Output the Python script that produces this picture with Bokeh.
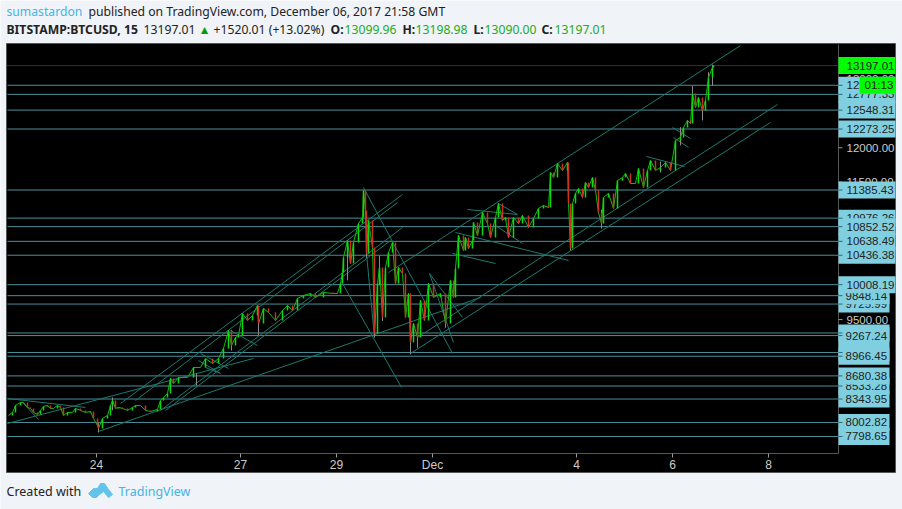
from bokeh.plotting import figure
from bokeh.embed import file_html
from bokeh.resources import INLINE
from bokeh.core.properties import value
from bokeh.models import Range1d

# time in hours from 24 Nov 00:00
times = [-44,-42,-40.5,-38,-36.5,-34.5,-33,-31.5,-29.5,-28,-26.5,-24.5,-23,-21.5,-19.5,-18,-16.5,-14.5,-12,-10.5,-8,-5.5,-3,-1.5,0.5,1,3,5.5,7,8,9.5,11,13,15.5,18,19.5,22,24.5,27,30.5,32,33.5,35.5,37,38.5,41,45.5,48.5,52,54.5,58,61,63.5,66,67.5,69.5,71,73,75.5,78,80.5,81,83.5,86,89.5,93,95.5,98,100.5,103.5,107,109.5,113.5,118,120.5,122,123,
123.5,125.5,127,128.5,131,133,133.5,134.5,135,136,138,139,140.5,141.5,143,144.5,146,148,149.5,151,153,154.5,156,157,158.5,160.5,162,164,166,168.5,172,174.5,177,178.5,179.5,181,183.5,184.5,186,188,188.5,190.5,193,195.5,197,199.5,201,203,204.5,206,208.5,211,213,216,218.5,221,223.5,226,227,228.5,230.5,233,235.5,236,237,238,239.5,241,243,244.5,246,248,249.5,251,252.5,253.5,256,258.5,260.5,263,264.5,267,269.5,271,273.5,275.5,277,279.5,282,284.5,287,289.5,292,293.5,295.5,297,298,299.5,301,303,304.5,306,308,308.5]
closes = [8105,8149,8250,8294,8294,8221,8207,8149,8119,8178,8236,8250,8207,8207,8250,8221,8105,8149,8149,8207,8178,8149,8163,8061,7959,7916,8061,8105,8250,8323,8207,8221,8207,8178,8221,8250,8250,8178,8163,8192,8323,8367,8425,8643,8570,8658,8658,8803,8803,8934,8861,8934,9080,9341,9123,9240,9269,9589,9487,9560,9705,9443,9662,9603,9487,9633,9705,9633,9807,9851,9880,9822,9895,9880,9880,10025,10185,
10404,10651,10316,10622,10898,10986,11378,11088,10462,10942,10549,9298,10025,10258,9531,10258,10476,10622,10025,10258,10171,9531,9880,9167,9443,9240,9778,9487,10025,9822,9880,9443,10069,9822,10244,10724,10505,10695,10535,10651,10913,10724,11058,10898,10695,10986,11189,10942,10986,10695,10986,10898,11015,10840,10971,11117,11160,11131,11640,11568,11771,11669,11786,11189,10535,11189,11335,11408,11277,11495,11422,11568,11378,11058,10898,11277,11335,11117,11524,11568,11626,11480,11480,11699,11422,11669,11815,11669,11713,11786,11669,12106,12150,12295,12397,12353,12790,12586,12732,12543,12688,13023,13168,13197]
wick_t = [1,8,50,67.5,81,125.5,135,139,141.5,143,157,160.5,174.5,237,252.5,282,292,298,303,306,308]
wick_lo = [7857,8180,8540,9050,9270,10070,10400,9240,10000,9480,8993,9090,9380,10505,10825,11640,12034,12513,12397,12800,12900]
wick_hi = [8000,8367,8720,9350,9450,10650,11000,9600,10430,9900,9300,9400,9700,10800,11100,11800,12300,12900,12700,13100,13210]

# trend lines
tl_t0 = [146,12,19.5,32,34.5,1,-44.5,157,160.5,133.5,166.5,166.5,135,123,185.5,179.5,178,201,199.5,275,288,288.5,52,54.5,67,-44.5,-37,51]
tl_p0 = [10185,8279,8323,8178,8178,7872,7988,9007,9240,11422,10171,10171,10462,10025,11102,10767,10462,11189,10869,11873,12295,12150,9007,8803,9341,8352,8294,8905]
tl_t1 = [322,153,150.5,153,147,192,78.5,337,340.5,178,183,178.5,139,152.5,210.5,236,199.5,210.5,213,294,297,296,66,62,80.5,-5.5,-29,62]
tl_p1 = [13488,11320,11204,10840,10651,9822,8934,12368,12630,9007,9531,9167,9240,8512,11029,10360,10316,11029,10607,11728,12135,12004,8788,8716,9123,8221,8047,8716]

# horizontal levels; the order is the stacking order of their price tags
levels = [12777.33,12909.71,12548.31,12273.25,11385.43,10976.26,10852.52,10638.49,10436.38,9725.99,9848.14,10008.19,9305.42,9267.24,9021.33,8966.45,8533.28,8680.38,8343.95,8002.82,7798.65]
last_price = 13197.01
price_ticks = [8000,8500,9000,9500,10000,10500,11000,11500,12000,12500,13000]
time_ticks = [0,72,120,168,240,288,336]
time_labels = ["24","27","29","Dec","4","6","8"]

BG = "#f0f3f8"
LEVEL = "#4a8f9b"
TREND = "#1d7a6e"
UP = "#10d810"
DOWN = "#c8341f"
EDGE = "#555555"
PER_PX = 14.552


def px(col):
    "canvas column -> position on the time scale (for page furniture)"
    return (col - 96) / 2


def py(row):
    "canvas row -> position on the price scale (for page furniture)"
    return 13503 + (44 - row) * PER_PX


p = figure(width=902, height=509, output_backend="svg", toolbar_location=None,
           x_range=Range1d(px(0), px(902)), y_range=Range1d(py(509), py(0)),
           x_axis_location=None, y_axis_location=None,
           min_border=0, min_border_left=0, min_border_right=0, min_border_top=0, min_border_bottom=0,
           background_fill_color=BG, border_fill_color=BG, outline_line_color=None)
p.grid.visible = False

# outer panel
p.quad(left=[px(6)], right=[px(895)], top=[py(43)], bottom=[py(472)],
       fill_color="#000000", line_color=EDGE, line_width=1)

t_left, t_right = px(7), px(838)
p.segment([t_left] * len(levels), levels, [t_right] * len(levels), levels, line_color=LEVEL, line_width=1)
p.segment([t_left], [last_price], [t_right], [last_price], line_color="#0a9a0a", line_width=1, line_dash="1 1")
p.segment(tl_t0, tl_p0, tl_t1, tl_p1, line_color=TREND, line_width=1)

# candles
p.segment(wick_t, wick_lo, wick_t, wick_hi, line_color="#8a8a8a", line_width=1)
p.line(times, closes, line_color="#14b814", line_width=1)
opens = [closes[0]] + closes[:-1]
colors = [UP if c >= o else DOWN for o, c in zip(opens, closes)]
p.segment(times, opens, times, closes, line_color=colors, line_width=1.5)

# pane edges
p.segment([t_left, t_right], [py(453), py(44)], [t_right, t_right], [py(453), py(453)], line_color=EDGE, line_width=1)

# time scale
p.segment(time_ticks, [py(453)] * len(time_ticks), time_ticks, [py(457)] * len(time_ticks),
          line_color="#999999", line_width=1)
p.text(x=time_ticks, y=[py(464)] * len(time_ticks), text=time_labels, text_color="#cccccc",
       text_font=value("Liberation Sans"), text_font_size=value("12px"), text_align="center", text_baseline="middle")

# price scale
p.segment([t_right] * len(price_ticks), price_ticks, [px(842)] * len(price_ticks), price_ticks,
          line_color="#999999", line_width=1)
p.text(x=[px(846)] * len(price_ticks), y=price_ticks, text=[f"{v:.2f}" for v in price_ticks], text_color="#cccccc",
       text_font=value("Liberation Sans"), text_font_size=value("11.5px"), text_align="left", text_baseline="middle")


def tag(y, txt, fill, left=838, right=None, tx=846):
    if right is None:
        right = 895 if len(txt) > 7 else 889
    p.quad(left=[px(left)], right=[px(right)], top=[y + 8.5 * PER_PX], bottom=[y - 8.5 * PER_PX],
           fill_color=fill, line_color=None)
    p.text(x=[px(tx if len(txt) > 7 else tx - 1)], y=[y], text=[txt], text_color="#222222",
           text_font=value("Liberation Sans"), text_font_size=value("11.5px"),
           text_align="left", text_baseline="middle")


for lv in levels:
    tag(lv, f"{lv:.2f}", "#80cfe0")
p.segment([t_right] * len(levels), levels, [px(842)] * len(levels), levels, line_color="#2a6a78", line_width=1)
tag(last_price, f"{last_price:.2f}", "#00ff00", right=895)
tag(12909.71, "01:13", "#00ff00", left=859, right=895, tx=865)

FONT = "Noto Sans"


def hdr(col, row, txt, color="#222222", bold=False, size="12.2px"):
    p.text(x=[px(col)], y=[py(row)], text=[txt], text_color=color, text_font=value(FONT),
           text_font_size=value(size), text_font_style="bold" if bold else "normal",
           text_align="left", text_baseline="middle")


GREEN = "#22ab22"
BLUE = "#45b4e6"
hdr(6, 11, "sumastardon", BLUE)
hdr(88, 11, "published on TradingView.com, December 06, 2017 21:58 GMT")
hdr(6, 29, "BITSTAMP:BTCUSD, 15", bold=True)
hdr(143, 29, "13197.01")
hdr(198, 29, "▲", "#00a000")
hdr(213, 29, "+1520.01 (+13.02%)")
hdr(330, 29, "O:", bold=True)
hdr(344, 29, "13099.96", GREEN)
hdr(402, 29, "H:", bold=True)
hdr(415, 29, "13198.98", GREEN)
hdr(473, 29, "L:", bold=True)
hdr(484, 29, "13090.00", GREEN)
hdr(541, 29, "C:", bold=True)
hdr(554, 29, "13197.01", GREEN)
hdr(6, 491, "Created with", size="12.5px")
hdr(118, 491, "TradingView", BLUE, size="12.5px")

# logo
logo_x = [88,93,97,100,104,108,112,108,103,99,96,92]
logo_y = [493,488,488,483,483,489,494,497,491,494,497,497]
p.patch([px(v) for v in logo_x], [py(v) for v in logo_y], fill_color="#62c4ea", line_color="#62c4ea")

open("out.html", "w").write(file_html(p, INLINE))
